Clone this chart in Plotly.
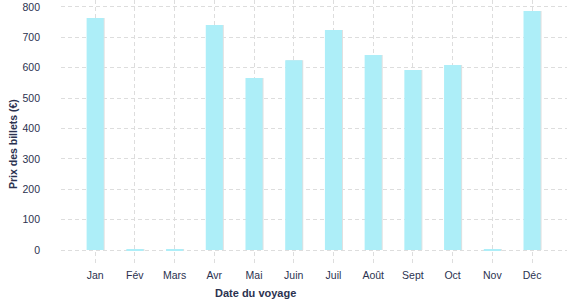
import plotly.graph_objects as go

months = ["Jan", "Fév", "Mars", "Avr", "Mai", "Juin", "Juil", "Août", "Sept", "Oct", "Nov", "Déc"]
prices = [764, 3, 3, 741, 566, 625, 724, 642, 593, 609, 3, 787]
y_ticks = [0, 100, 200, 300, 400, 500, 600, 700, 800]

x_title = "Date du voyage"
y_title = "Prix des billets (€)"

FONT = "Liberation Sans, Arial, sans-serif"
TXT = "#2b3250"
xs = list(range(len(months)))

fig = go.Figure()
fig.add_trace(go.Bar(x=xs, y=prices, width=0.43, offset=-0.19,
                     marker=dict(color="#e0e0e0", line=dict(width=0)),
                     hoverinfo="skip", showlegend=False))
fig.add_trace(go.Bar(x=xs, y=prices, width=0.43, offset=-0.215,
                     marker=dict(color="#adeef8", line=dict(width=0)),
                     showlegend=False))

fig.update_layout(
    width=577, height=300,
    margin=dict(l=61, r=10, t=0, b=35),
    barmode="overlay",
    plot_bgcolor="white", paper_bgcolor="white",
    font=dict(family=FONT, size=10, color=TXT),
    xaxis=dict(
        tickmode="array", tickvals=xs, ticktext=months,
        range=[-0.86, 11.88],
        showgrid=True, gridcolor="#dddddd", griddash="4px,3px", gridwidth=1,
        zeroline=False, showline=False, ticks="",
        ticklabelstandoff=2,
        tickfont=dict(size=10.5, color=TXT),
    ),
    yaxis=dict(
        tickmode="array", tickvals=y_ticks,
        range=[-49, 823],
        showgrid=True, gridcolor="#dddddd", griddash="4px,3px", gridwidth=1,
        zeroline=False, showline=False, ticks="",
        ticklabelstandoff=20,
        tickfont=dict(size=10.5, color=TXT),
    ),
    annotations=[
        dict(text="<b>" + x_title + "</b>", xref="paper", yref="paper",
             x=(255 - 61) / 506, y=-(293 - 265) / 265, xanchor="center", yanchor="middle",
             showarrow=False, font=dict(size=11, color=TXT, family=FONT)),
        dict(text="<b>" + y_title + "</b>", xref="paper", yref="paper",
             x=-(61 - 13) / 506, y=(265 - 144) / 265, xanchor="center", yanchor="middle",
             textangle=-90, showarrow=False, font=dict(size=10.5, color=TXT, family=FONT)),
    ],
)

fig.write_html("out.html")
